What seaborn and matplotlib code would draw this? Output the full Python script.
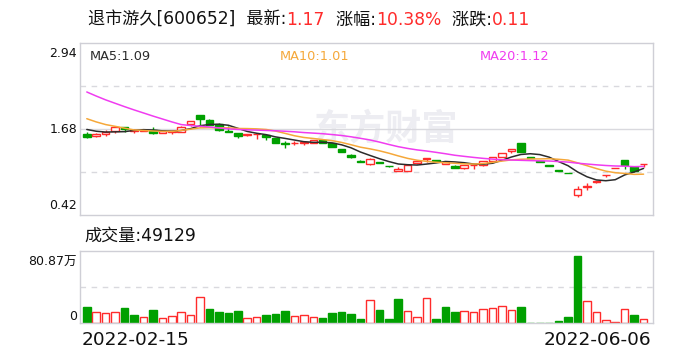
import numpy as np
import pandas as pd
import matplotlib
matplotlib.use('Agg')
import matplotlib.pyplot as plt
import seaborn as sns

sns.set_theme(style='white')
plt.rcParams['font.family'] = ['DejaVu Sans', 'Noto Sans CJK SC']

# ---------------- data ----------------
stock_name = '退市游久[600652]'
latest_price = '1.17'
pct_change = '10.38%'
abs_change = '0.11'
volume_latest = '49129'
volume_max_label = '80.87万'
date_start = '2022-02-15'
date_end = '2022-06-06'
price_ticks = ['2.94', '1.68', '0.42']
ma_texts = ['MA5:1.09', 'MA10:1.01', 'MA20:1.12']

prior_closes = [2.80, 2.76, 2.70, 2.66, 2.60, 2.56, 2.52, 2.50, 2.50, 2.50,
                2.08, 2.03, 1.96, 1.94, 1.92, 1.74, 1.70, 1.69, 1.66]

opens = [1.61, 1.572, 1.60, 1.645, 1.713, 1.655, 1.655, 1.66, 1.622, 1.628,
         1.641, 1.747, 1.888, 1.815, 1.757, 1.645, 1.612, 1.595, 1.598, 1.583,
         1.55, 1.47, 1.47, 1.47, 1.48, 1.514, 1.476, 1.379, 1.296, 1.21,
         1.16, 1.19, 1.135, 1.063, 1.063, 1.175, 1.245, 1.22, 1.165, 1.142,
         1.113, 1.148, 1.156, 1.214, 1.273, 1.354, 1.466, 1.262, 1.205, 1.145,
         1.072, 1.037, 0.709, 0.826, 0.90, 1.00, 1.11, 1.219, 1.121, 1.165]
highs = [1.64, 1.612, 1.66, 1.71, 1.713, 1.68, 1.68, 1.703, 1.65, 1.655,
         1.715, 1.796, 1.888, 1.82, 1.76, 1.728, 1.615, 1.60, 1.605, 1.585,
         1.55, 1.505, 1.505, 1.49, 1.51, 1.535, 1.48, 1.38, 1.316, 1.225,
         1.25, 1.20, 1.14, 1.12, 1.15, 1.21, 1.252, 1.225, 1.20, 1.145,
         1.151, 1.155, 1.204, 1.262, 1.331, 1.389, 1.466, 1.262, 1.205, 1.145,
         1.072, 1.04, 0.845, 0.884, 0.91, 1.01, 1.11, 1.219, 1.121, 1.17]
lows = [1.54, 1.558, 1.578, 1.62, 1.636, 1.62, 1.645, 1.60, 1.615, 1.605,
        1.635, 1.718, 1.70, 1.73, 1.65, 1.635, 1.543, 1.58, 1.525, 1.52,
        1.47, 1.404, 1.44, 1.445, 1.475, 1.48, 1.41, 1.335, 1.26, 1.19,
        1.15, 1.175, 1.125, 1.06, 1.06, 1.17, 1.19, 1.21, 1.16, 1.11,
        1.088, 1.10, 1.13, 1.21, 1.27, 1.33, 1.34, 1.255, 1.195, 1.14,
        1.067, 1.03, 0.676, 0.787, 0.89, 0.976, 1.11, 1.088, 1.044, 1.12]
closes = [1.565, 1.61, 1.64, 1.705, 1.675, 1.655, 1.665, 1.616, 1.645, 1.648,
          1.709, 1.796, 1.83, 1.738, 1.66, 1.64, 1.573, 1.60, 1.605, 1.558,
          1.476, 1.463, 1.48, 1.485, 1.51, 1.48, 1.418, 1.34, 1.267, 1.20,
          1.233, 1.18, 1.13, 1.088, 1.146, 1.209, 1.252, 1.212, 1.195, 1.113,
          1.151, 1.155, 1.204, 1.262, 1.331, 1.389, 1.34, 1.258, 1.20, 1.142,
          1.069, 1.034, 0.807, 0.845, 0.91, 1.01, 1.11, 1.156, 1.06, 1.17]
volumes = [19.3, 12.9, 11.7, 12.9, 18.1, 9.7, 6.8, 15.7, 5.6, 8.1,
           12.9, 9.3, 31.0, 16.9, 13.3, 12.1, 14.5, 5.6, 6.8, 9.7,
           10.9, 14.9, 8.5, 9.7, 7.3, 6.0, 12.1, 13.3, 10.9, 4.8,
           27.8, 16.1, 4.8, 29.4, 14.5, 7.3, 30.2, 4.8, 19.7, 13.7,
           14.5, 13.3, 16.9, 18.1, 20.5, 15.7, 19.7, 0.6, 0.6, 0.6,
           2.5, 7.6, 80.87, 27.0, 13.3, 3.2, 0.8, 16.9, 10.1, 4.91]  # 万

# ---------------- derived ----------------
RED = '#ff2b2b'
GREEN = '#00a000'
GRID = '#d9d9de'
SPINE = '#cfcfd6'
MA_COLORS = ['#2b2b2b', '#f5a83a', '#f03cf0']

o = np.array(opens); h = np.array(highs); l = np.array(lows); c = np.array(closes)
n = len(c)
idx = np.arange(n)
all_c = pd.Series(prior_closes + closes)
mas = [all_c.rolling(k).mean().to_numpy()[-n:] for k in (5, 10, 20)]
prev_close = all_c.to_numpy()[-n - 1:-1]
candle_up = c >= o
vol_up = c >= prev_close
candle_col = [RED if u else GREEN for u in candle_up]

W, H = 688, 360
fig = plt.figure(figsize=(W / 100, H / 100), dpi=100)
fig.patch.set_facecolor('white')

def fx(x):
    return x / W

def fy(y):
    return 1 - y / H

axp = fig.add_axes([fx(80), fy(215), (653 - 80) / W, (215 - 42.7) / H])
axv = fig.add_axes([fx(80), fy(323), (653 - 80) / W, (323 - 251.3) / H])

XL = (-0.72, 60.0)

# ---- price panel ----
axp.set_xlim(*XL)
axp.set_ylim(0.42, 2.94)
axp.axhline(1.68, color=GRID, lw=1, zorder=1)
for yv in (1.05, 2.31):
    axp.axhline(yv, color=GRID, lw=1, ls=(0, (4, 4)), zorder=1)

axp.text(fx(386), fy(129), '东方财富', transform=fig.transFigure, fontsize=26,
         fontweight='bold', color='#ededf2', ha='center', va='center', zorder=0.5,
         family='Noto Sans CJK SC')

axp.vlines(idx, l, h, colors=candle_col, lw=1.0, zorder=2)
bottoms = np.minimum(o, c)
heights = np.maximum(np.abs(c - o), 0.002)
axp.bar(idx, heights, bottom=bottoms, width=0.8,
        color=['white' if u else GREEN for u in candle_up],
        edgecolor=candle_col, linewidth=1.0, zorder=3)

for ma, col in zip(mas, MA_COLORS):
    sns.lineplot(x=idx, y=ma, ax=axp, color=col, lw=1.1, zorder=4)

axp.set_xticks([]); axp.set_yticks([])
axp.set_xlabel(''); axp.set_ylabel('')

# ---- volume panel ----
dfv = pd.DataFrame({'idx': idx, 'vol': volumes})
sns.barplot(data=dfv, x='idx', y='vol', ax=axv, width=0.8, errorbar=None,
            color='white', saturation=1, linewidth=1.0)
for p, u in zip(axv.patches, vol_up):
    if u:
        p.set_facecolor('white'); p.set_edgecolor(RED)
    else:
        p.set_facecolor(GREEN); p.set_edgecolor(GREEN)
vmax = max(volumes) / 0.934
axv.set_ylim(0, vmax)
axv.set_xlim(*XL)
axv.axhline(vmax / 2, color=GRID, lw=1, ls=(0, (4, 4)), zorder=0)
axv.set_xticks([]); axv.set_yticks([])
axv.set_xlabel(''); axv.set_ylabel('')

for ax in (axp, axv):
    for s in ax.spines.values():
        s.set_color(SPINE); s.set_linewidth(1.0)
        s.set_visible(True)

# ---- texts ----
TXT = '#111111'
fs_axis = 9.0
fig.text(fx(77), fy(47), price_ticks[0], ha='right', va='top', fontsize=fs_axis, color=TXT)
fig.text(fx(77), fy(129.3), price_ticks[1], ha='right', va='center', fontsize=fs_axis, color=TXT)
fig.text(fx(77), fy(212), price_ticks[2], ha='right', va='bottom', fontsize=fs_axis, color=TXT)
fig.text(fx(77), fy(262), volume_max_label, ha='right', va='center', fontsize=fs_axis, color=TXT)
fig.text(fx(77), fy(316), '0', ha='right', va='center', fontsize=fs_axis, color=TXT)

for t, xpos, col in zip(ma_texts, (90, 280, 480), MA_COLORS):
    fig.text(fx(xpos), fy(57), t, ha='left', va='center', fontsize=9.3, color=col)

fs_title = 12.3
pieces = [(stock_name + '  最新:', TXT), (latest_price, RED), ('  涨幅:', TXT),
          (pct_change, RED), ('  涨跌:', TXT), (abs_change, RED)]
prev = fig.text(fx(88), fy(20), pieces[0][0], ha='left', va='center',
                fontsize=fs_title, color=pieces[0][1])
for s, col in pieces[1:]:
    prev = axp.annotate(s, xy=(1, 0), xycoords=prev, ha='left', va='bottom',
                        fontsize=fs_title, color=col, annotation_clip=False)

fig.text(fx(84), fy(236), '成交量:' + volume_latest, ha='left', va='center',
         fontsize=12.3, color=TXT)
fig.text(fx(82), fy(340), date_start, ha='left', va='center', fontsize=13.3, color=TXT)
fig.text(fx(651), fy(340), date_end, ha='right', va='center', fontsize=13.3, color=TXT)

fig.savefig('out.png', dpi=100, facecolor='white')
